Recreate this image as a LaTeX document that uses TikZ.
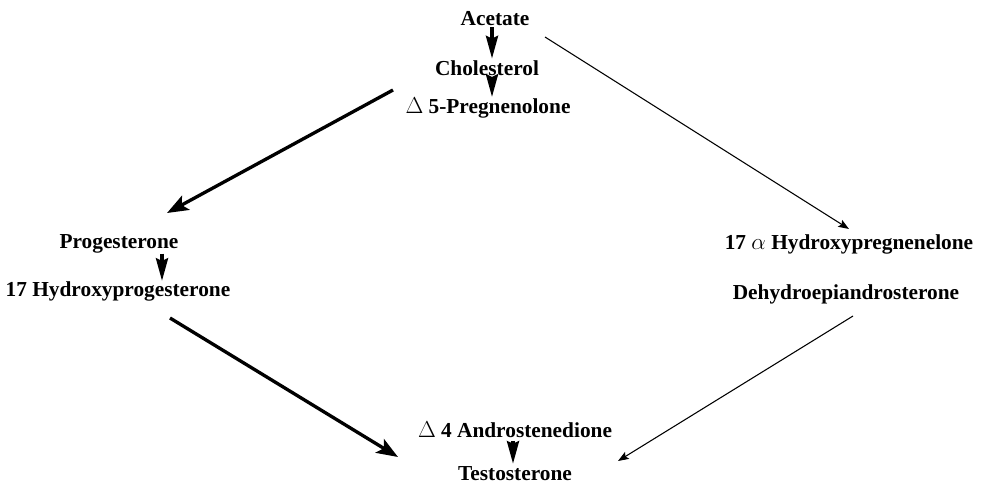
\documentclass[tikz,border=0pt]{standalone}
\usepackage{fontspec}
\setmainfont{Liberation Serif}
\usetikzlibrary{arrows.meta}
\begin{document}
\begin{tikzpicture}[x=0.75pt,y=-0.75pt,
  lbl/.style={font=\bfseries\fontsize{16}{19}\selectfont, inner sep=0pt, anchor=base},
  sarrow/.style={line width=2.6pt, -{Stealth[length=17pt,width=9pt,inset=2pt]}},
  thick arrow/.style={line width=2.5pt, -{Stealth[length=16pt,width=12pt,inset=3.5pt]}},
  thin arrow/.style={line width=0.8pt, -{Stealth[length=8pt,width=6pt,inset=1.5pt]}}]
\useasboundingbox (0,0) rectangle (985,493);

\node[lbl] (ace)   at (495,25)  {Acetate};
\node[lbl] (chol)  at (487,75)  {Cholesterol};
\node[lbl] (preg)  at (488,113) {$\Delta$ 5-Pregnenolone};
\node[lbl] (prog)  at (119,248) {Progesterone};
\node[lbl] (ohp)   at (118,296) {17 Hydroxyprogesterone};
\node[lbl] (ohpreg) at (849,249) {17 $\alpha$ Hydroxypregnenelone};
\node[lbl] (dhea)  at (846,299) {Dehydroepiandrosterone};
\node[lbl] (andro) at (515,437) {$\Delta$ 4 Androstenedione};
\node[lbl] (testo) at (515,480) {Testosterone};

\draw[sarrow] ([xshift=-2.25pt,yshift=-1.5pt]ace.south) -- ([xshift=3.75pt,yshift=1pt]chol.north);
\draw[sarrow] ([xshift=3.75pt,yshift=-1.5pt]chol.south) -- ([xshift=3pt]preg.north);
\draw[sarrow] ([xshift=32.25pt,yshift=-0.5pt]prog.south) -- ([xshift=33pt]ohp.north);
\draw[sarrow] ([xshift=-1.5pt,yshift=-2.5pt]andro.south) -- ([xshift=-1.5pt,yshift=1.5pt]testo.north);

\coordinate (l1s) at (393,90);
\coordinate (l1e) at (167,213);
\coordinate (l2s) at (170,318);
\coordinate (l2e) at (398,457);
\coordinate (r1s) at (545,37);
\coordinate (r1e) at (849,229);
\coordinate (r2s) at (853,316);
\coordinate (r2e) at (618,461);

\draw[thick arrow] (l1s) -- (l1e);
\draw[thick arrow] (l2s) -- (l2e);
\draw[thin arrow] (r1s) -- (r1e);
\draw[thin arrow] (r2s) -- (r2e);
\end{tikzpicture}
\end{document}
